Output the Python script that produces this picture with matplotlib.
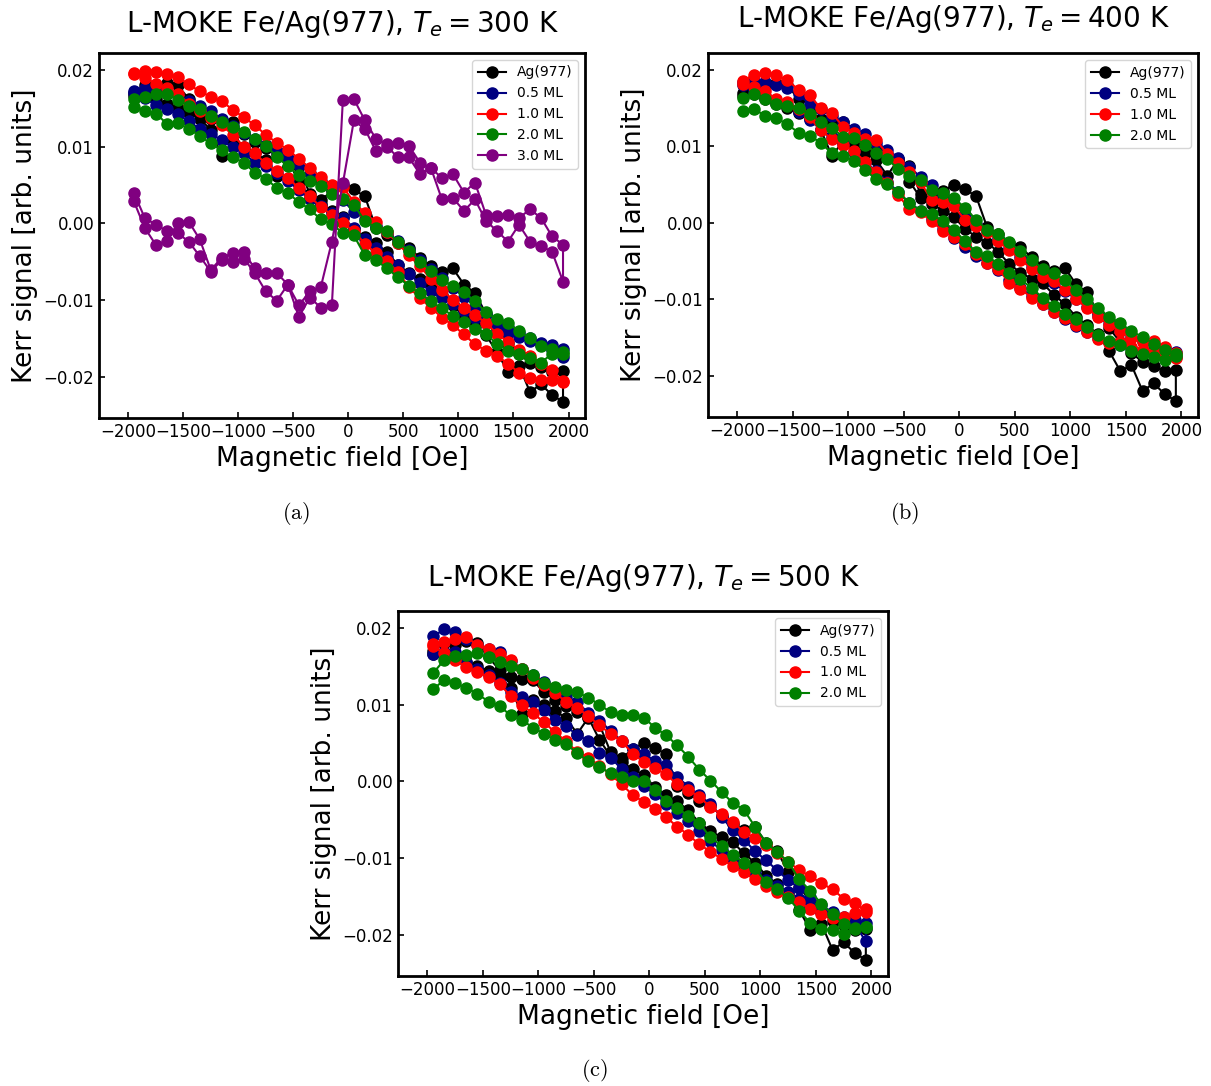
import numpy as np
import matplotlib.pyplot as plt

# campo magnetico [Oe], misma rejilla para las dos ramas del ciclo
campo = np.arange(-1950, 1951, 100)

# señal Kerr en unidades de 1e-3 (rama superior "sup" / rama inferior "inf")
# Ag(977) es la misma medida en los tres paneles
ag_sup = [17.0, 18.0, 17.8, 18.3, 18.0, 16.2, 14.5, 13.6, 13.3, 13.2,
          11.6, 10.6, 9.8, 9.0, 8.4, 7.4, 3.8, 3.0, 4.2, 5.0,
          4.4, 3.5, -0.6, -1.5, -2.6, -3.2, -4.5, -5.6, -6.3, -5.9,
          -8.0, -9.1, -11.8, -13.8, -15.6, -17.0, -18.2, -18.7, -19.4, -19.3]
ag_inf = [16.6, 16.9, 16.2, 15.6, 15.0, 14.4, 13.6, 12.2, 8.8, 10.6,
          10.0, 9.2, 8.2, 6.2, 8.3, 5.4, 3.3, 2.5, 1.6, 0.8,
          -0.8, -1.8, -2.6, -3.8, -5.4, -6.5, -7.3, -7.9, -9.4, -10.6,
          -12.3, -13.4, -14.6, -16.8, -19.4, -18.6, -22.0, -21.0, -22.4, -23.3]

# Te = 300 K
a05_sup = [17.3, 17.6, 17.5, 17.2, 16.6, 16.0, 15.3, 14.6, 13.6, 12.7,
           11.8, 11.0, 10.2, 9.4, 8.5, 7.6, 6.6, 5.5, 4.4, 3.0,
           1.5, 0.6, -0.3, -1.2, -2.3, -3.5, -4.8, -6.0, -7.2, -8.4,
           -9.6, -10.8, -11.8, -12.7, -13.5, -14.3, -15.0, -15.6, -15.9, -16.4]
a05_inf = [17.0, 16.3, 15.4, 14.9, 14.2, 13.3, 12.3, 11.7, 10.8, 9.9,
           9.1, 7.9, 7.4, 6.5, 5.5, 4.3, 3.1, 2.2, 1.3, 0.7,
           -0.6, -2.0, -3.2, -4.4, -5.5, -6.6, -7.8, -8.9, -9.7, -10.5,
           -11.5, -12.3, -13.0, -13.7, -14.3, -14.9, -15.4, -15.9, -16.5, -17.4]
a10_sup = [19.6, 19.8, 19.7, 19.4, 19.1, 18.1, 17.2, 16.5, 15.9, 14.8,
           13.8, 12.8, 11.5, 10.5, 9.6, 8.4, 7.2, 6.0, 5.0, 4.7,
           2.8, 1.3, 0.1, -1.2, -2.6, -4.2, -5.6, -7.3, -8.7, -10.0,
           -11.1, -12.0, -13.0, -14.4, -15.5, -16.5, -17.3, -18.3, -19.2, -20.6]
a10_inf = [19.4, 19.0, 18.2, 17.6, 16.9, 15.6, 14.6, 13.7, 12.8, 11.5,
           10.0, 9.1, 7.8, 6.8, 5.9, 4.6, 3.5, 2.1, 1.1, 0.0,
           -1.0, -2.7, -3.9, -4.9, -6.4, -8.3, -9.8, -11.0, -12.3, -13.3,
           -14.5, -15.8, -16.6, -17.3, -18.3, -19.5, -20.2, -20.5, -20.5, -20.7]
a20_sup = [16.2, 16.5, 16.8, 16.9, 16.1, 15.3, 14.9, 14.0, 13.2, 12.6,
           11.9, 11.0, 10.1, 8.7, 7.4, 6.3, 5.5, 4.9, 3.8, 3.1,
           2.4, 0.3, -0.6, -1.0, -2.5, -3.6, -5.0, -6.2, -7.4, -8.2,
           -9.0, -10.2, -11.6, -12.5, -13.0, -14.1, -15.0, -16.0, -16.4, -17.0]
a20_inf = [15.2, 14.7, 14.3, 13.0, 13.1, 12.3, 11.4, 10.4, 9.5, 8.6,
           7.9, 6.6, 5.8, 4.6, 3.9, 2.8, 1.8, 0.5, -0.1, -1.3,
           -1.6, -4.2, -4.8, -5.9, -7.0, -8.2, -9.1, -10.2, -11.1, -12.1,
           -12.9, -13.8, -14.5, -15.7, -16.6, -17.1, -17.6, -18.2, -17.0, -16.8]
a30_sup = [4.0, 0.7, -0.2, -1.0, -1.3, -2.4, -4.3, -6.3, -4.8, -5.0,
           -4.6, -6.5, -8.9, -10.1, -8.0, -12.2, -9.7, -11.0, -10.7, 16.1,
           16.2, 13.4, 11.0, 10.3, 10.5, 10.1, 7.9, 7.2, 5.9, 6.4,
           4.0, 5.3, 1.1, 0.9, 1.1, 0.7, 1.8, 0.7, -1.7, -2.8]
a30_inf = [2.9, -0.6, -2.8, -2.3, 0.0, 0.2, -2.1, -6.1, -4.5, -3.9,
           -3.8, -5.9, -6.5, -6.5, -8.0, -10.7, -8.9, -8.3, -2.4, 5.2,
           13.4, 12.3, 9.4, 10.0, 8.6, 8.6, 6.4, 7.2, 3.1, 3.3,
           1.6, 3.1, 0.3, -1.0, -2.4, -0.2, -2.4, -3.0, -3.7, -7.6]

# Te = 400 K
b05_sup = [18.4, 18.7, 18.4, 18.1, 17.7, 16.8, 15.6, 14.9, 14.0, 13.2,
           12.3, 11.6, 10.5, 9.6, 8.5, 7.3, 6.0, 4.9, 3.6, 2.4,
           1.0, -0.2, -1.0, -2.0, -3.3, -4.5, -5.8, -7.0, -7.9, -8.9,
           -10.0, -11.0, -12.2, -13.2, -14.1, -14.9, -15.5, -16.0, -16.4, -16.9]
b05_inf = [18.0, 17.3, 16.6, 15.9, 15.4, 14.5, 13.5, 12.3, 11.2, 10.3,
           9.3, 7.9, 6.8, 5.4, 4.0, 2.6, 1.6, 0.5, -0.8, -2.0,
           -3.1, -4.3, -5.3, -6.2, -7.5, -8.5, -9.6, -10.6, -11.7, -12.6,
           -13.5, -14.3, -15.0, -15.6, -16.0, -16.4, -16.8, -17.2, -17.5, -17.6]
b10_sup = [18.6, 19.4, 19.6, 19.3, 18.7, 17.4, 16.7, 15.0, 14.4, 12.6,
           11.8, 11.0, 10.8, 9.0, 7.8, 6.6, 5.3, 3.0, 2.7, 2.2,
           0.4, -0.4, -1.2, -2.4, -3.6, -4.8, -6.0, -7.1, -7.6, -8.8,
           -9.9, -11.2, -12.3, -13.3, -14.2, -15.1, -15.6, -15.5, -16.2, -17.0]
b10_inf = [18.2, 17.8, 17.2, 16.2, 15.8, 14.9, 13.8, 12.1, 11.0, 10.2,
           9.4, 8.0, 6.6, 5.2, 3.6, 1.8, 1.4, 0.2, -1.0, -1.9,
           -2.8, -4.1, -5.3, -6.0, -7.9, -8.6, -9.8, -10.6, -11.6, -12.5,
           -13.4, -14.3, -15.2, -15.7, -15.6, -16.2, -16.6, -17.0, -17.4, -17.7]
b20_sup = [16.4, 16.8, 16.2, 15.6, 15.3, 15.0, 14.2, 13.2, 12.4, 11.3,
           11.1, 10.2, 9.2, 8.3, 7.1, 6.1, 5.6, 4.3, 3.9, 3.2,
           2.0, 0.4, -0.9, -1.4, -2.5, -3.7, -4.8, -6.0, -6.6, -7.5,
           -8.8, -10.0, -11.2, -12.3, -13.1, -14.2, -14.9, -15.8, -16.6, -17.2]
b20_inf = [14.6, 14.9, 14.0, 13.7, 12.9, 11.8, 11.4, 10.5, 9.1, 8.8,
           8.1, 6.9, 5.7, 5.1, 4.0, 2.6, 1.6, 1.2, 0.2, -0.9,
           -2.4, -3.8, -4.3, -5.4, -6.5, -7.4, -8.5, -9.8, -10.9, -11.9,
           -12.6, -13.6, -14.7, -15.5, -16.0, -16.8, -17.2, -17.5, -17.9, -17.4]

# Te = 500 K
c05_sup = [18.9, 19.8, 19.5, 18.6, 17.8, 17.2, 16.8, 15.7, 14.6, 13.9,
           13.0, 12.2, 11.0, 10.3, 8.9, 7.9, 6.6, 5.2, 4.2, 3.5,
           2.7, 2.1, 0.6, -0.7, -1.8, -3.0, -4.6, -6.4, -7.6, -9.1,
           -10.3, -11.6, -12.9, -13.9, -15.1, -16.2, -17.1, -17.7, -18.1, -18.5]
c05_inf = [16.6, 16.9, 16.8, 15.6, 14.6, 13.8, 12.8, 11.6, 11.0, 10.4,
           9.3, 8.0, 7.2, 6.0, 5.3, 3.7, 3.1, 1.6, 0.6, -0.6,
           -1.6, -2.9, -4.1, -5.2, -6.5, -7.8, -9.0, -10.2, -11.2, -12.0,
           -12.9, -13.7, -14.5, -15.4, -16.3, -17.0, -17.5, -18.0, -18.6, -20.9]
c10_sup = [17.9, 18.2, 18.5, 18.8, 17.8, 17.3, 16.6, 15.8, 14.6, 13.5,
           12.5, 11.5, 10.4, 9.6, 8.5, 7.3, 6.2, 5.2, 3.6, 2.5,
           1.7, 0.9, -0.4, -1.2, -2.0, -3.4, -4.3, -5.3, -6.6, -7.4,
           -8.3, -9.4, -10.5, -11.6, -12.4, -13.3, -14.1, -15.3, -15.9, -17.0]
c10_inf = [17.6, 16.7, 15.8, 14.9, 14.3, 13.6, 12.7, 11.1, 9.9, 8.9,
           7.7, 6.4, 5.2, 3.8, 3.1, 2.0, 0.9, -0.4, -1.8, -2.7,
           -3.6, -4.7, -5.9, -7.0, -8.2, -9.2, -10.1, -11.1, -11.9, -12.8,
           -13.6, -14.4, -15.1, -15.8, -16.6, -17.3, -17.8, -17.7, -17.2, -16.7]
c20_sup = [14.1, 15.8, 16.4, 16.5, 16.7, 16.2, 15.6, 15.1, 14.7, 13.9,
           12.8, 12.3, 11.9, 11.6, 10.9, 10.0, 9.0, 8.6, 8.6, 8.3,
           7.0, 6.0, 4.7, 3.2, 1.5, 0.1, -1.4, -2.8, -3.7, -5.9,
           -8.0, -9.2, -10.5, -12.8, -14.3, -16.0, -17.3, -18.6, -19.2, -19.0]
c20_inf = [12.0, 13.2, 12.8, 12.2, 11.4, 10.4, 9.8, 8.6, 8.0, 7.0,
           6.2, 5.4, 4.8, 3.7, 2.6, 1.8, 1.1, 0.6, 0.0, 0.0,
           -1.1, -2.6, -3.5, -4.5, -5.5, -7.3, -8.4, -9.6, -10.6, -11.3,
           -13.2, -14.1, -15.2, -16.9, -18.5, -19.3, -19.4, -19.9, -19.3, -19.0]

etiquetas = ['Ag(977)', '0.5 ML', '1.0 ML', '2.0 ML', '3.0 ML']
colores = ['black', 'navy', 'red', 'green', 'purple']

paneles = [
    ('300', [0.0818, 0.6151, 0.4013, 0.3361], 15,
     [(ag_sup, ag_inf), (a05_sup, a05_inf), (a10_sup, a10_inf),
      (a20_sup, a20_inf), (a30_sup, a30_inf)]),
    ('400', [0.5847, 0.6160, 0.4046, 0.3350], 19,
     [(ag_sup, ag_inf), (b05_sup, b05_inf), (b10_sup, b10_inf),
      (b20_sup, b20_inf)]),
    ('500', [0.3287, 0.1013, 0.4046, 0.3360], 18,
     [(ag_sup, ag_inf), (c05_sup, c05_inf), (c10_sup, c10_inf),
      (c20_sup, c20_inf)]),
]

fig = plt.figure(figsize=(12.11, 10.86), dpi=100)

for (temp, pos, pad, series) in paneles:
    ax = fig.add_axes(pos)
    for i, (sup, inf) in enumerate(series):
        # el ciclo: rama superior de izquierda a derecha, luego la inferior de vuelta
        x = np.concatenate([campo, campo[::-1]])
        y = np.concatenate([sup, inf[::-1]]) * 1e-3
        ax.plot(x, y, '-o', color=colores[i], ms=8, lw=1.5, label=etiquetas[i])
    ax.set_xlim(-2265, 2150)
    ax.set_ylim(-0.0254, 0.0222)
    ax.set_xticks(np.arange(-2000, 2001, 500))
    ax.set_yticks([-0.02, -0.01, 0.0, 0.01, 0.02])
    ax.tick_params(direction='in', labelsize=12, width=1.2, length=4)
    for s in ax.spines.values():
        s.set_linewidth(2)
    ax.set_xlabel('Magnetic field [Oe]', fontsize=19)
    ax.set_ylabel('Kerr signal [arb. units]', fontsize=19)
    ax.set_title('L-MOKE Fe/Ag(977), $T_e = ' + temp + '$ K', fontsize=20, pad=pad)
    ax.legend(loc='upper right', fontsize=10)

fig.text(0.2444, 0.5276, r'$\mathrm{(a)}$', math_fontfamily='cm', fontsize=16,
         ha='center', va='center')
fig.text(0.7473, 0.5276, r'$\mathrm{(b)}$', math_fontfamily='cm', fontsize=16,
         ha='center', va='center')
fig.text(0.4913, 0.0147, r'$\mathrm{(c)}$', math_fontfamily='cm', fontsize=16,
         ha='center', va='center')

plt.savefig('out.png', dpi=100)
